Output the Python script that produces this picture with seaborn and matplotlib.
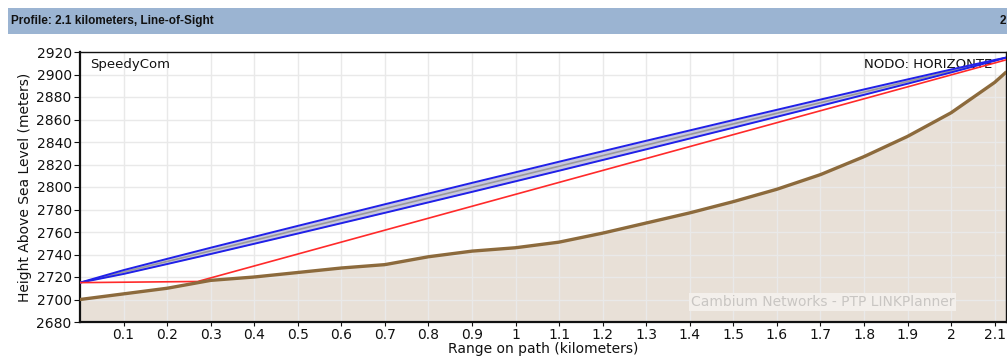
import numpy as np
import pandas as pd
import matplotlib
matplotlib.use("Agg")
import matplotlib.pyplot as plt
from matplotlib.patches import Rectangle
import seaborn as sns

# Terrain profile along the path (km, metres above sea level)
range_km = [0.0, 0.1, 0.2, 0.3, 0.4, 0.5, 0.6, 0.7, 0.8, 0.9, 1.0, 1.1,
            1.2, 1.3, 1.4, 1.5, 1.6, 1.7, 1.8, 1.9, 2.0, 2.1, 2.126]
terrain_m = [2700, 2705, 2710, 2717, 2720, 2724, 2728, 2731, 2738, 2743, 2746, 2751,
             2759, 2768, 2777, 2787, 2798, 2811, 2827, 2845, 2866, 2893, 2902]

# Line of sight between the two antennas
los_km = [0.0, 2.126]
los_m = [2715, 2915]

# First Fresnel zone half-width (m) at each terrain sample
fresnel_half_m = [0.0, 1.7, 2.3, 2.8, 3.1, 3.4, 3.6, 3.8, 3.9, 4.0, 4.0, 4.0,
                  3.9, 3.8, 3.6, 3.4, 3.1, 2.8, 2.4, 1.9, 1.3, 0.4, 0.0]

# Radio horizon line from the left antenna
horizon_km = [0.0, 0.27, 2.126]
horizon_m = [2715, 2716, 2913]

x_ticks = [0.1, 0.2, 0.3, 0.4, 0.5, 0.6, 0.7, 0.8, 0.9, 1.0, 1.1,
           1.2, 1.3, 1.4, 1.5, 1.6, 1.7, 1.8, 1.9, 2.0, 2.1]
x_tick_labels = ["0.1", "0.2", "0.3", "0.4", "0.5", "0.6", "0.7", "0.8", "0.9", "1", "1.1",
                 "1.2", "1.3", "1.4", "1.5", "1.6", "1.7", "1.8", "1.9", "2", "2.1"]
y_ticks = list(range(2680, 2921, 20))

title_text = "Profile: 2.1 kilometers, Line-of-Sight"
left_site = "SpeedyCom"
right_site = "NODO: HORIZONTE"
watermark = "Cambium Networks - PTP LINKPlanner"

sns.set_style("white")
plt.rcParams["font.family"] = ["DejaVu Sans"]

df = pd.DataFrame({"range": range_km, "terrain": terrain_m, "half": fresnel_half_m})
df["los"] = np.interp(df["range"], los_km, los_m)
df["upper"] = df["los"] + df["half"]
df["lower"] = df["los"] - df["half"]

fig = plt.figure(figsize=(10.07, 3.56), dpi=100)
ax = fig.add_axes([80 / 1007, 1 - 322 / 356, 926 / 1007, 270 / 356])

# Header bar
fig.patches.append(Rectangle((8 / 1007, 1 - 34 / 356), 1.0, 26 / 356,
                             transform=fig.transFigure, facecolor="#9bb4d2",
                             edgecolor="none", zorder=0))
fig.text(11 / 1007, 1 - 21 / 356, title_text, fontsize=8.5, fontweight="bold",
         family=["Liberation Sans Narrow", "Liberation Sans", "DejaVu Sans"],
         va="center", ha="left", color="#111111")
fig.text(1006 / 1007, 1 - 21 / 356, "2", fontsize=8.5, fontweight="bold",
         family=["Liberation Sans", "DejaVu Sans"], va="center", ha="right",
         color="#111111")

# Terrain
ax.fill_between(df["range"], 2600, df["terrain"], color="#e8e0d7", lw=0, zorder=0.2)
sns.lineplot(data=df, x="range", y="terrain", ax=ax, color="#8c6a3c", lw=2.4,
             zorder=4, sort=False)

# Fresnel zone and line of sight
ax.fill_between(df["range"], df["lower"], df["upper"], color="#c8c8e0", lw=0, zorder=2)
sns.lineplot(data=df, x="range", y="los", ax=ax, color="#9a9a9a", lw=1.2, zorder=3,
             sort=False)
sns.lineplot(data=df, x="range", y="upper", ax=ax, color="#2020e8", lw=1.4, zorder=3,
             sort=False)
sns.lineplot(data=df, x="range", y="lower", ax=ax, color="#2020e8", lw=1.4, zorder=3,
             sort=False)
sns.lineplot(x=horizon_km, y=horizon_m, ax=ax, color="#ff2a2a", lw=1.2, zorder=3,
             sort=False)

ax.set_xlim(0, 2.126)
ax.set_ylim(2680, 2920)
ax.set_xticks(x_ticks)
ax.set_xticklabels(x_tick_labels)
ax.set_yticks(y_ticks)
ax.grid(True, color="#e9e9e9", lw=1.0)
ax.set_axisbelow(True)
for gl in ax.get_xgridlines() + ax.get_ygridlines():
    gl.set_zorder(0.5)

ax.tick_params(axis="both", labelsize=10, colors="#111111", length=4, width=0.8)
ax.tick_params(axis="y", direction="out", left=True, right=True, pad=2)
ax.tick_params(axis="x", direction="out", bottom=True, length=3, pad=1.5)
for side in ["left", "bottom"]:
    ax.spines[side].set_linewidth(1.6)
    ax.spines[side].set_color("#111111")
for side in ["top", "right"]:
    ax.spines[side].set_linewidth(1.0)
    ax.spines[side].set_color("#111111")

ax.set_xlabel("Range on path (kilometers)", fontsize=10, labelpad=0, color="#111111")
ax.set_ylabel("Height Above Sea Level (meters)", fontsize=10, labelpad=3, color="#111111")

ax.text(0.011, 0.955, left_site, transform=ax.transAxes, fontsize=9.5,
        ha="left", va="center", color="#111111", zorder=5)
ax.text(0.985, 0.955, right_site, transform=ax.transAxes, fontsize=9.5,
        ha="right", va="center", color="#111111", zorder=2.5)
ax.text(0.802, 0.073, watermark, transform=ax.transAxes, fontsize=10,
        ha="center", va="center", color="#c9c6c3", zorder=5,
        bbox=dict(boxstyle="square,pad=0.15", facecolor="#f3efeb", edgecolor="none"))

fig.savefig("out.png", dpi=100, facecolor="white")
